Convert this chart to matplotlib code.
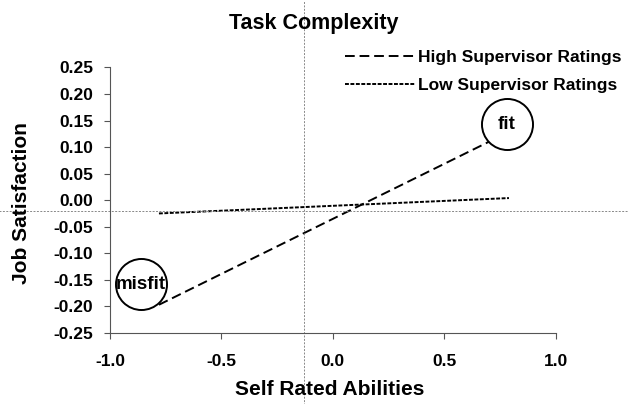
import numpy as np
import matplotlib
matplotlib.use("Agg")
import matplotlib.pyplot as plt

plt.rcParams['font.family'] = ['Liberation Sans', 'DejaVu Sans']
plt.rcParams['font.weight'] = 'bold'

# data
abil_high = [-0.78, 0.70]
sat_high = [-0.197, 0.11]
abil_low = [-0.78, 0.79]
sat_low = [-0.025, 0.004]
labels = ["High Supervisor Ratings", "Low Supervisor Ratings"]

# annotated circles
circ_x = [-0.86, 0.78]
circ_y = [-0.158, 0.143]
circ_txt = ["misfit", "fit"]

# crosshair lines
cross_x = -0.13
cross_y = -0.02

xticks = [-1.0, -0.5, 0.0, 0.5, 1.0]
yticks = [0.25, 0.20, 0.15, 0.10, 0.05, 0.00, -0.05, -0.10, -0.15, -0.20, -0.25]
ytick_labels = ["0.25", "0.20", "0.15", "0.10", "0.05", "0.00",
                "-0.05", "-0.10", "-0.15", "-0.20", "-0.25"]

fig = plt.figure(figsize=(6.28, 4.04), dpi=100)
ax = fig.add_axes([0.175, 0.176, 0.71, 0.657])

ax.plot(abil_high, sat_high, color='black', lw=1.4, dashes=(5, 2.5), label=labels[0])
ax.plot(abil_low, sat_low, color='black', lw=1.4, dashes=(2, 0.8), label=labels[1])

ax.scatter(circ_x, circ_y, s=1350, facecolors='white', edgecolors='black', linewidths=1.4, zorder=3)
for cx, cy, t in zip(circ_x, circ_y, circ_txt):
    ax.text(cx, cy, t, ha='center', va='center', fontsize=13.5, fontweight='bold', zorder=4)

ax.set_xlim(-1.0, 1.0)
ax.set_ylim(-0.25, 0.25)
ax.set_xticks(xticks)
ax.set_xticklabels(["%.1f" % v for v in xticks])
ax.set_yticks(yticks)
ax.set_yticklabels(ytick_labels)
ax.tick_params(labelsize=12.5, length=4, color='#555555')
ax.tick_params(axis='x', pad=11)
ax.tick_params(axis='y', pad=8)
for s in ['top', 'right']:
    ax.spines[s].set_visible(False)
for s in ['left', 'bottom']:
    ax.spines[s].set_color('#555555')

# crosshair lines through the whole figure
ax.axvline(cross_x, ymin=-0.3, ymax=1.25, color='#888888', lw=0.7, ls=(0, (2, 1.5)), clip_on=False)
ax.axhline(cross_y, xmin=-0.25, xmax=1.2, color='#888888', lw=0.7, ls=(0, (2, 1.5)), clip_on=False)

fig.text(0.5, 0.942, "Task Complexity", ha='center', va='center', fontsize=15.5, fontweight='bold')
fig.text(0.525, 0.035, "Self Rated Abilities", ha='center', va='center', fontsize=15, fontweight='bold')
fig.text(0.035, 0.497, "Job Satisfaction", ha='center', va='center', rotation=90, fontsize=15, fontweight='bold')

leg = fig.legend(loc='upper right', bbox_to_anchor=(1.015, 0.915), frameon=False, fontsize=12.5,
                 handlelength=4.0, handletextpad=0.2, labelspacing=0.72)

fig.savefig("out.png", dpi=100)
